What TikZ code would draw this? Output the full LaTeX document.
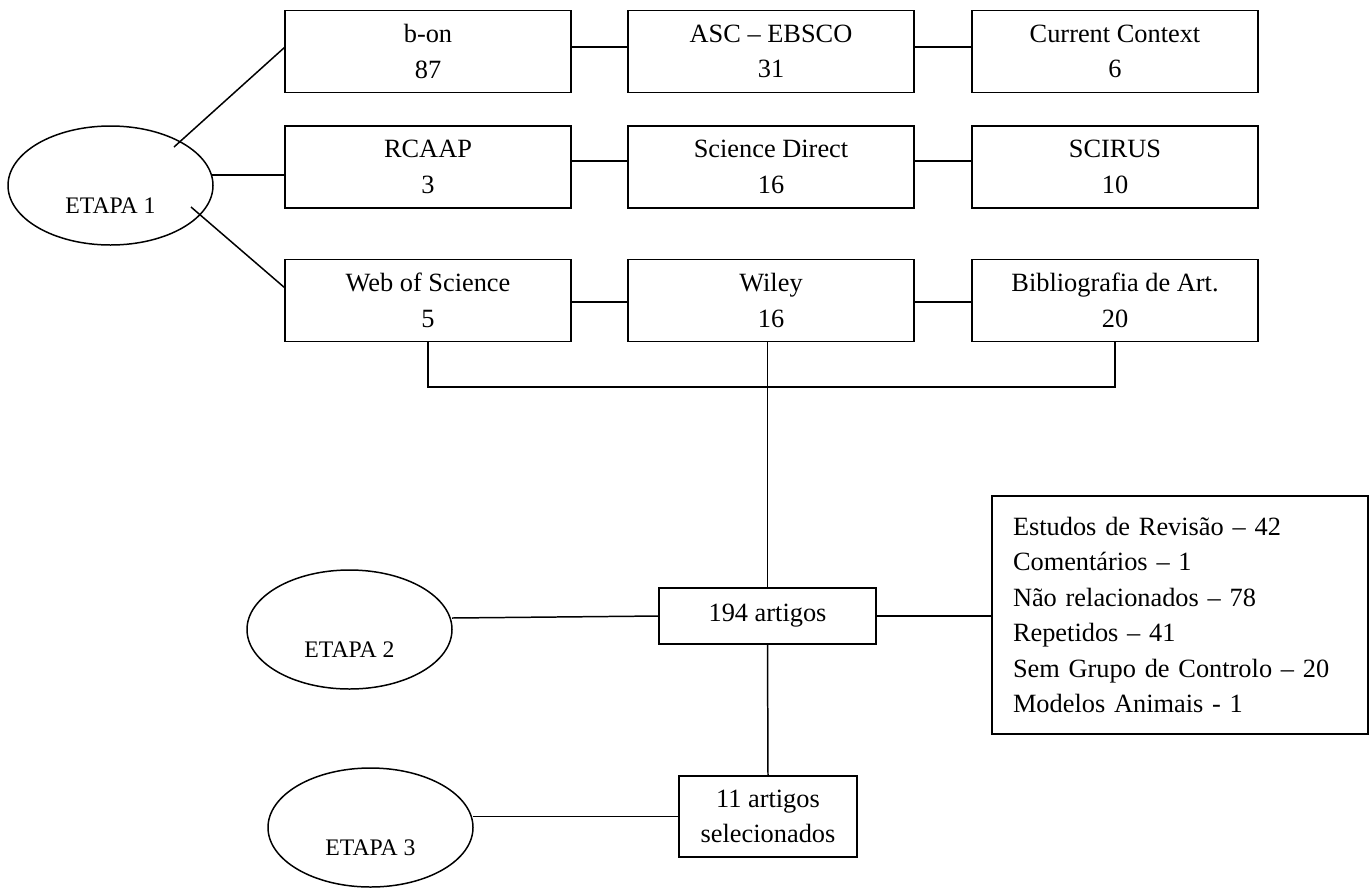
\documentclass[tikz,border=0pt]{standalone}
\usepackage{fontspec}
\setmainfont{Liberation Serif}
\usepackage{tikz}
\usetikzlibrary{shapes.geometric}
\tikzset{
  lnk/.style={line width=0.85pt},
  dbbox/.style={draw,line width=0.85pt,minimum width=57.2mm,minimum height=16.4mm,
    inner sep=0pt,outer sep=0pt,align=center,font=\fontsize{15}{20.2}\selectfont},
  stage/.style={draw,ellipse,line width=0.85pt,minimum width=41mm,minimum height=23.8mm,
    inner sep=0pt,outer sep=0pt,text height=11.3mm,text depth=0pt,
    font=\fontsize{13.5}{16}\selectfont},
  resbox/.style={draw,line width=0.85pt,inner sep=0pt,outer sep=0pt,align=center,
    font=\fontsize{15}{20.2}\selectfont}}
\newcommand{\fdb}[5]{\node[dbbox] (#1) at (#2,#3) {#4\\#5};}
\newcommand{\fstage}[4]{\node[stage] (#1) at (#2,#3) {#4};}
\newcommand{\flink}[3]{\draw[lnk] ([yshift=#3]#1.east) -- ([yshift=#3]#2.west);}
\begin{document}
\begin{tikzpicture}[x=0.2mm,y=-0.2mm]
  \useasboundingbox (0,0) rectangle (1370,887);
  \fdb{bon}{428}{51.5}{b-on}{87}
  \fdb{asc}{771}{51.5}{ASC – EBSCO}{31}
  \fdb{curr}{1115}{51.5}{Current Context}{6}
  \fdb{rcaap}{428}{167}{RCAAP}{3}
  \fdb{scid}{771}{167}{Science Direct}{16}
  \fdb{scirus}{1115}{167}{SCIRUS}{10}
  \fdb{wos}{428}{300.5}{Web of Science}{5}
  \fdb{wiley}{771}{300.5}{Wiley}{16}
  \fdb{bib}{1115}{300.5}{Bibliografia de Art.}{20}
  \fstage{e1}{110.5}{185.5}{ETAPA 1}
  \fstage{e2}{349.5}{629.5}{ETAPA 2}
  \fstage{e3}{370.5}{827.5}{ETAPA 3}
  \node[resbox,minimum width=43.4mm,minimum height=11.2mm] (art194) at (767.5,616) {194 artigos};
  \node[resbox,minimum width=35.6mm,minimum height=16.2mm] (sel) at (768,816.5) {11 artigos\\selecionados};
  \node[resbox,align=left,text width=66.8mm,inner xsep=4.2mm,minimum height=47.6mm] (excl) at (1180,615)
    {Estudos de Revisão – 42\\Comentários – 1\\Não relacionados – 78\\Repetidos – 41\\Sem Grupo de Controlo – 20\\Modelos Animais - 1};
  \coordinate (t1) at (174,147);
  \coordinate (t2) at (211.5,175);
  \coordinate (t3) at (191,207);
  \coordinate (bus) at (767.5,387);
  \draw[lnk] (t1) -- ([yshift=0.9mm]bon.west);
  \draw[lnk] (t2) -- (t2 -| rcaap.west);
  \draw[lnk] (t3) -- ([yshift=2.5mm]wos.west);
  \flink{bon}{asc}{0.9mm} \flink{asc}{curr}{0.9mm}
  \flink{rcaap}{scid}{1.2mm} \flink{scid}{scirus}{1.2mm}
  \flink{wos}{wiley}{-0.3mm} \flink{wiley}{bib}{-0.3mm}
  \draw[lnk] (wos.south) |- (bus) -| (bib.south);
  \draw[lnk] (art194.north |- wiley.south) -- (art194.north);
  \draw[lnk] ([yshift=-0.4mm]e2.east |- art194.west) -- (art194.west);
  \draw[lnk] (art194.east) -- (art194.east -| excl.west);
  \draw[lnk] (art194.south) -- (sel.north);
  \draw[lnk] (sel.west -| e3.east) -- (sel.west);
\end{tikzpicture}
\end{document}
